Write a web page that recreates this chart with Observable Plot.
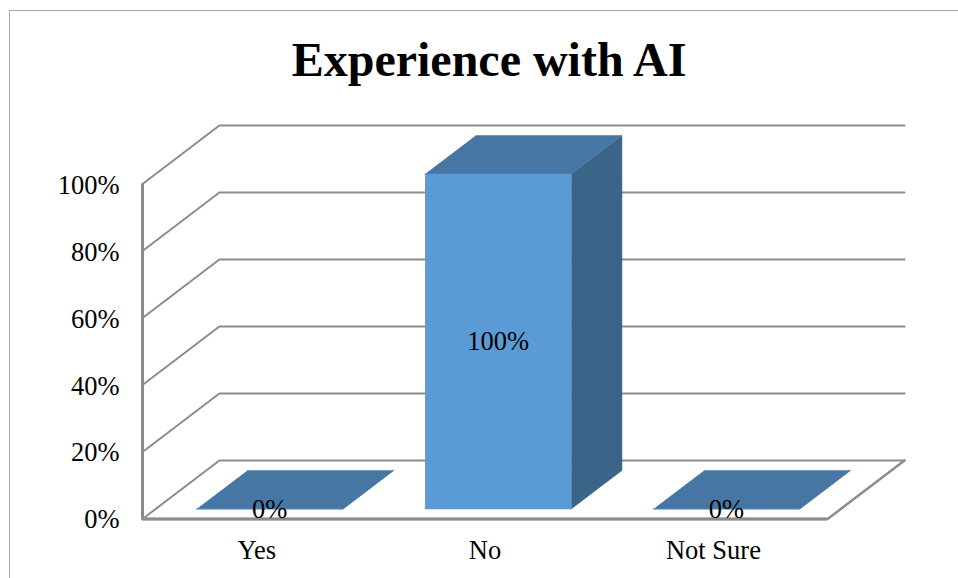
<!DOCTYPE html>
<html>
<head>
<meta charset="utf-8">
<title>Experience with AI</title>
<script src="https://cdn.jsdelivr.net/npm/d3@7"></script>
<script src="https://cdn.jsdelivr.net/npm/@observablehq/plot@0.6"></script>
<style>
  html, body { margin: 0; padding: 0; background: #fff; overflow: hidden; }
  #page { position: relative; width: 958px; height: 578px; overflow: hidden; font-family: "Liberation Serif", serif; }
  #frame { position: absolute; left: 8.5px; top: 10px; width: 980px; height: 600px; border: 1.5px solid #a8a8a8; box-sizing: border-box; pointer-events: none; }
  h1 { position: absolute; left: 0; top: 0; width: 978px; height: 110px; margin: 0; text-align: center; font-size: 48px; line-height: 120px; font-weight: bold; color: #000; }
  #chart { position: absolute; left: 0; top: 110px; }
  svg { display: block; background: transparent; }
</style>
</head>
<body>
<div id="page">
  <div id="frame"></div>
  <h1>Experience with AI</h1>
  <div id="chart"></div>
</div>
<script>
// Survey responses
const categories = ["Yes", "No", "Not Sure"];
const shares = [0, 100, 0];
const yTicks = [0, 20, 40, 60, 80, 100];

// Oblique projection: one unit of depth shifts a point right and up
const depthX = 0.3367;   // in category widths
const depthY = 17.49;    // in percentage points
const project = (cat, value, depth) => ({x: cat + depth * depthX, y: value + depth * depthY});

// Bar footprint within its category slot and within the floor's depth
const barLeft = 0.18, barWidth = 0.64, barNear = 0.17, barFar = 0.83;

const gridColor = "#8c8c8c";
const faceColors = {front: "#5b9bd5", top: "#4676a4", side: "#3a6488"};
const labelSize = 26.5;

// Wall gridlines: out along the side wall, then across the back wall
const gridlines = yTicks.flatMap((v) => [
  {v, ...project(0, v, 0)},
  {v, ...project(0, v, 1)},
  {v, ...project(categories.length, v, 1)}
]);

// Front and right edges of the floor
const floorEdge = [
  project(0, 0, 0),
  project(categories.length, 0, 0),
  project(categories.length, 0, 1)
];

// One closed outline per visible box face
const faces = shares.flatMap((value, i) => {
  const l = i + barLeft, r = l + barWidth;
  const outline = (face, pts) => pts.map((p) => ({key: `${i}-${face}`, face, ...project(...p)}));
  return [
    ...outline("front", [[l, 0, barNear], [r, 0, barNear], [r, value, barNear], [l, value, barNear]]),
    ...outline("side", [[r, 0, barNear], [r, 0, barFar], [r, value, barFar], [r, value, barNear]]),
    ...outline("top", [[l, value, barNear], [r, value, barNear], [r, value, barFar], [l, value, barFar]])
  ];
});

// Value labels sit at the middle of each front face
const valueLabels = shares.map((value, i) => ({
  label: `${value}%`,
  ...project(i + barLeft + barWidth / 2, value / 2, barNear)
}));

const plot = Plot.plot({
  width: 958,
  height: 468,
  marginLeft: 142,
  marginRight: 54,
  marginTop: 15,
  marginBottom: 59.5,
  style: {fontFamily: "'Liberation Serif', serif", fontSize: `${labelSize}px`, color: "#000", background: "transparent"},
  x: {domain: [0, categories.length + depthX]},
  y: {domain: [0, 100 + depthY]},
  marks: [
    Plot.line(gridlines, {x: "x", y: "y", z: "v", stroke: gridColor, strokeWidth: 2, strokeLinejoin: "miter"}),
    Plot.line(floorEdge, {x: "x", y: "y", stroke: gridColor, strokeWidth: 2.5, strokeLinejoin: "miter"}),
    Plot.ruleX([0], {y1: 0, y2: 100, stroke: gridColor, strokeWidth: 3}),
    Plot.ruleY([0], {x1: 0, x2: categories.length, stroke: gridColor, strokeWidth: 3}),
    ...["side", "top", "front"].map((face) =>
      Plot.line(faces.filter((d) => d.face === face), {
        x: "x", y: "y", z: "key",
        fill: faceColors[face],
        stroke: faceColors[face],
        strokeWidth: 0.5
      })
    ),
    Plot.text(valueLabels, {x: "x", y: "y", text: "label", fontSize: labelSize, fill: "#000"}),
    Plot.axisY(yTicks, {
      tickSize: 0, tickPadding: 23, tickFormat: (d) => `${d}%`, label: null,
      anchor: "left", fontSize: labelSize, fill: "#000", dy: 1
    }),
    Plot.axisX(categories.map((_, i) => i + 0.5), {
      tickSize: 0, tickPadding: 21, tickFormat: (d) => categories[Math.floor(d)], label: null,
      anchor: "bottom", fontSize: labelSize, fill: "#000"
    })
  ]
});
document.getElementById("chart").append(plot);
</script>
</body>
</html>
